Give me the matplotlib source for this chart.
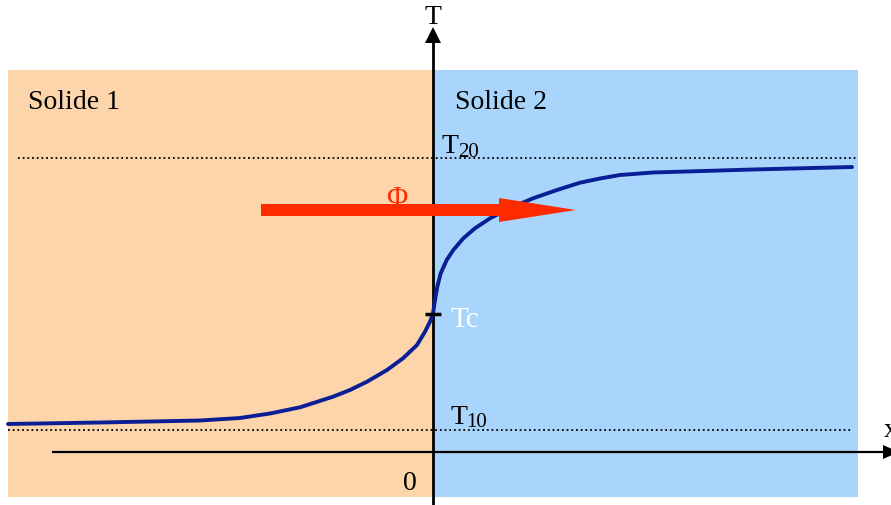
import matplotlib.pyplot as plt
import matplotlib.patches as mpatches

plt.rcParams['font.family'] = ['Liberation Serif', 'DejaVu Serif']

# Temperature profile across the contact (x = 0 is the interface), px-scaled units
x_prof = [-425, -333, -233, -193, -163, -133, -100, -83, -66, -46, -30, -16,
          -8, -3, 0, 2, 4.3, 7.7, 13.7, 20.3, 30.3, 42, 57, 77, 100, 124, 147,
          167, 187, 220, 320, 419]
T_prof = [28, 29.5, 31.5, 34, 38.5, 44.7, 55.3, 62, 70.3, 82, 93.7, 107,
          120.3, 130.3, 138.5, 152, 165.3, 178.7, 192, 202, 213.7, 223.7,
          233.7, 243.7, 253.7, 262, 269.3, 273.5, 277, 279.5, 282.5, 285]

T20 = 294
T10 = 22
Tc = 138

solids = ['Solide 1', 'Solide 2']
solid_colors = ['#FDD5AA', '#A9D5FC']

fig = plt.figure(figsize=(8.91, 5.05), dpi=100)
ax = fig.add_axes([0, 0, 1, 1])
ax.set_xlim(-433, 458)
ax.set_ylim(-53, 452)
ax.axis('off')

# the two solids
ax.add_patch(mpatches.Rectangle((-425, -45), 425, 427, fc=solid_colors[0], ec='none'))
ax.add_patch(mpatches.Rectangle((0, -45), 425, 427, fc=solid_colors[1], ec='none'))
ax.text(-405, 343, solids[0], fontsize=20, ha='left', va='baseline')
ax.text(22, 343, solids[1], fontsize=20, ha='left', va='baseline')

# reference temperatures
ax.plot([-415, 425], [T20, T20], color='black', lw=1.3, ls=(0, (1, 1.6)))
ax.plot([-425, 420], [T10, T10], color='black', lw=1.3, ls=(0, (1, 1.6)))
ax.text(8, 299, 'T', fontsize=20, ha='left', va='baseline')
ax.text(25, 295, '20', fontsize=15, ha='left', va='baseline')
ax.text(17, 28, 'T', fontsize=20, ha='left', va='baseline')
ax.text(33, 25, '10', fontsize=15, ha='left', va='baseline')

# axes with arrow heads
ax.plot([0, 0], [-53, 412], color='black', lw=2.0, solid_capstyle='butt')
ax.add_patch(mpatches.Polygon([[-8, 409], [8, 409], [0, 425]], closed=True, fc='black', ec='none'))
ax.text(0, 434, 'T', fontsize=20, ha='center', va='center')
ax.plot([-381, 452], [0, 0], color='black', lw=1.6, solid_capstyle='butt')
ax.add_patch(mpatches.Polygon([[450, 7], [450, -7], [466, 0]], closed=True, fc='black', ec='none'))
ax.text(451, 15, 'x', fontsize=20, ha='left', va='baseline')
ax.text(-23, -38, '0', fontsize=20, ha='center', va='baseline')

# temperature profile
ax.plot(x_prof, T_prof, color='#0A1E96', lw=2.8, solid_capstyle='round',
        solid_joinstyle='round', zorder=3)
ax.plot([-8, 8], [Tc, Tc], color='black', lw=2.5, solid_capstyle='butt', zorder=4)
ax.text(17, 125, 'Tc', fontsize=21, color='white', ha='left', va='baseline')

# heat flux arrow
ax.add_patch(mpatches.FancyArrow(-172, 242, 315, 0, width=12, head_width=24,
                                 head_length=77, length_includes_head=True,
                                 fc='#FF2A00', ec='none', zorder=5))
ax.text(-36, 246, 'Φ', fontsize=21, color='#FF2A00', ha='center', va='baseline')

fig.savefig('out.png', dpi=100)
